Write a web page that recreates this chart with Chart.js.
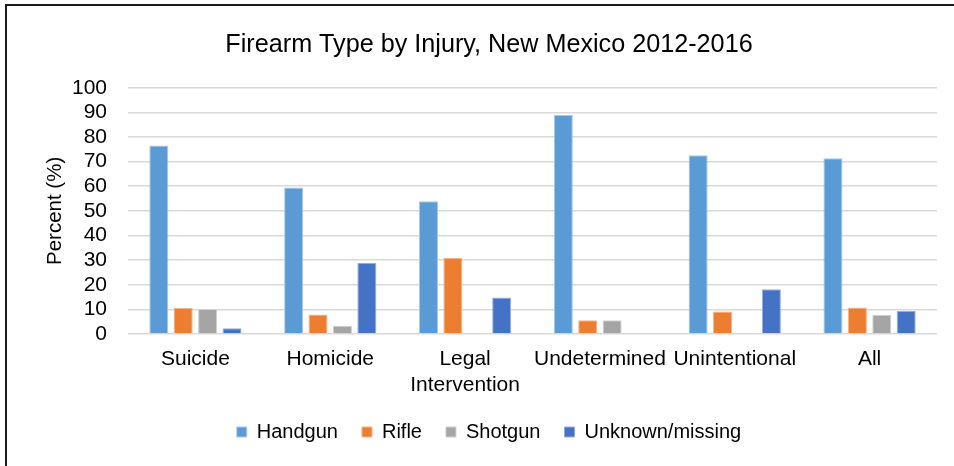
<!DOCTYPE html>
<html>
<head>
<meta charset="utf-8">
<script src="https://cdn.jsdelivr.net/npm/chart.js@4"></script>
<style>
  html, body { margin: 0; padding: 0; background: #fff; }
  #wrap { position: relative; width: 954px; height: 466px; overflow: hidden; }
  #frame { position: absolute; left: 5px; top: 4px; width: 1200px; height: 800px;
           border: 2px solid #1a1a1a; box-sizing: border-box; pointer-events: none; }
  canvas { position: absolute; left: 0; top: 0; }
</style>
</head>
<body>
<div id="wrap">
  <canvas id="c" width="954" height="466"></canvas>
  <div id="frame"></div>
</div>
<script>
const categories = ["Suicide", "Homicide", ["Legal", "Intervention"], "Undetermined", "Unintentional", "All"];
const handgun = [76.5, 59.5, 53.9, 88.9, 72.6, 71.4];
const rifle   = [10.6, 7.9, 31.0, 5.6, 9.1, 10.8];
const shotgun = [10.2, 3.3, 0, 5.6, 0, 7.7];
const unknown = [2.3, 28.9, 14.8, 0, 18.2, 9.3];
const yTicks  = [0, 10, 20, 30, 40, 50, 60, 70, 80, 90, 100];

const FONT = "'Liberation Sans', Arial, sans-serif";
Chart.defaults.font.family = FONT;
Chart.defaults.color = "#000";

function series(label, data, color, edge) {
  return { label, data, backgroundColor: color, borderColor: edge, borderWidth: 1,
           barPercentage: 0.78, categoryPercentage: 0.724 };
}

new Chart(document.getElementById("c"), {
  type: "bar",
  data: {
    labels: categories,
    datasets: [
      series("Handgun", handgun, "#5B9BD5", "#a9c9ea"),
      series("Rifle", rifle, "#ED7D31", "#f5b48a"),
      series("Shotgun", shotgun, "#A5A5A5", "#cfcfcf"),
      series("Unknown/missing", unknown, "#4472C4", "#93aee0")
    ]
  },
  options: {
    responsive: false,
    animation: false,
    layout: { padding: { left: 41, right: 17, top: 30, bottom: 14 } },
    plugins: {
      title: {
        display: true,
        text: "Firearm Type by Injury, New Mexico 2012-2016",
        font: { size: 25.2, weight: "normal", family: FONT },
        color: "#000",
        padding: { top: 0, bottom: 27.5 }
      },
      legend: {
        position: "bottom",
        labels: {
          boxWidth: 10, boxHeight: 10, padding: 24,
          font: { size: 20, family: FONT }, color: "#000"
        }
      },
      tooltip: { enabled: false }
    },
    scales: {
      x: {
        afterFit: (axis) => { axis.height = 64; },
        grid: { display: false },
        border: { display: false },
        ticks: { font: { size: 21, family: FONT }, color: "#000", padding: 5, maxRotation: 0, autoSkip: false }
      },
      y: {
        min: 0, max: 100,
        afterFit: (axis) => { axis.width = 87; },
        afterBuildTicks: (axis) => { axis.ticks = yTicks.map(v => ({ value: v })); },
        grid: { color: "#d9d9d9", lineWidth: 1.5, drawTicks: false },
        border: { display: false },
        ticks: { font: { size: 21, family: FONT }, color: "#000", padding: 21, autoSkip: false },
        title: { display: true, text: "Percent (%)", font: { size: 20.5, family: FONT }, color: "#000", padding: { top: 2, bottom: 0 } }
      }
    }
  }
});
</script>
</body>
</html>
